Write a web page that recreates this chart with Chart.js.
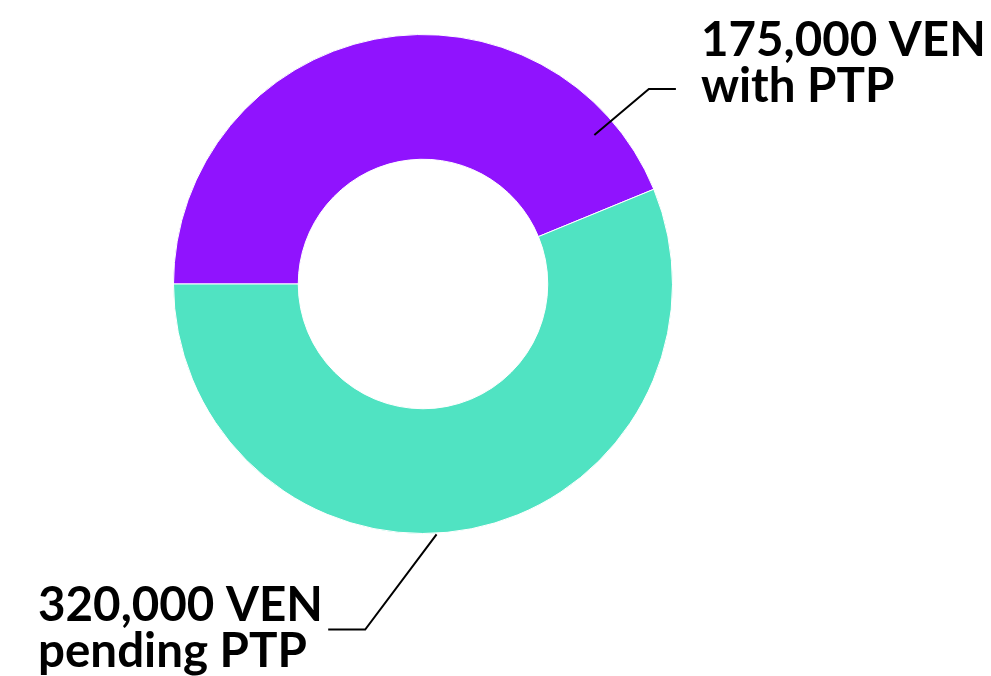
<!DOCTYPE html>
<html>
<head>
<meta charset="utf-8">
<script src="https://cdn.jsdelivr.net/npm/chart.js@4"></script>
<style>
  html, body { margin: 0; padding: 0; background: #fff; }
  #wrap { width: 991px; height: 676px; position: relative; }
</style>
</head>
<body>
<div id="wrap"><canvas id="ven"></canvas></div>
<script>
// segments, clockwise from 9 o'clock
const categories = ['with PTP', 'pending PTP'];
const amounts = ['175,000 VEN', '320,000 VEN'];
// shares as drawn in the picture (%)
const shares = [43.8, 56.2];
const colors = ['#9013FE', '#50E3C2'];

// callout: leader start angle/radius factor, elbow angle/radius factor, tail length
const callouts = [
  { a0: -41, r0: 0.91, a1: -40.8, r1: 1.196, tail: 27, textDx: 25, textDy: -33, side: 'right' },
  { a0: 86.9, r0: 1.005, a1: 99.5, r1: 1.404, tail: -37, textX: 38, textDy: -8, side: 'left' }
];

const calloutPlugin = {
  id: 'callouts',
  afterDraw(chart) {
    const ctx = chart.ctx;
    const meta = chart.getDatasetMeta(0);
    meta.data.forEach((arc, i) => {
      const c = callouts[i];
      const R = arc.outerRadius;
      const p0 = [arc.x + Math.cos(c.a0 * Math.PI / 180) * R * c.r0, arc.y + Math.sin(c.a0 * Math.PI / 180) * R * c.r0];
      const p1 = [arc.x + Math.cos(c.a1 * Math.PI / 180) * R * c.r1, arc.y + Math.sin(c.a1 * Math.PI / 180) * R * c.r1];
      const p2 = [p1[0] + c.tail, p1[1]];
      ctx.save();
      ctx.strokeStyle = '#000';
      ctx.lineWidth = 2;
      ctx.beginPath();
      ctx.moveTo(p0[0], p0[1]);
      ctx.lineTo(p1[0], p1[1]);
      ctx.lineTo(p2[0], p2[1]);
      ctx.stroke();

      ctx.fillStyle = '#000';
      ctx.font = 'bold 47.5px Lato';
      ctx.textAlign = 'left';
      ctx.textBaseline = 'alphabetic';
      const tx = c.side === 'right' ? p2[0] + c.textDx : c.textX;
      const ty = p2[1] + c.textDy;
      ctx.fillText(amounts[i], tx, ty);
      ctx.fillText(categories[i], tx, ty + 46);
      ctx.restore();
    });
  }
};

new Chart(document.getElementById('ven'), {
  type: 'doughnut',
  data: {
    labels: categories,
    datasets: [{
      data: shares,
      backgroundColor: colors,
      borderColor: '#ffffff',
      borderWidth: 1
    }]
  },
  options: {
    responsive: true,
    maintainAspectRatio: false,
    animation: false,
    rotation: -90,
    cutout: '50%',
    layout: { padding: { left: 0, right: 145, top: 34, bottom: 142 } },
    plugins: {
      legend: { display: false },
      tooltip: { enabled: false }
    }
  },
  plugins: [calloutPlugin]
});
</script>
</body>
</html>
